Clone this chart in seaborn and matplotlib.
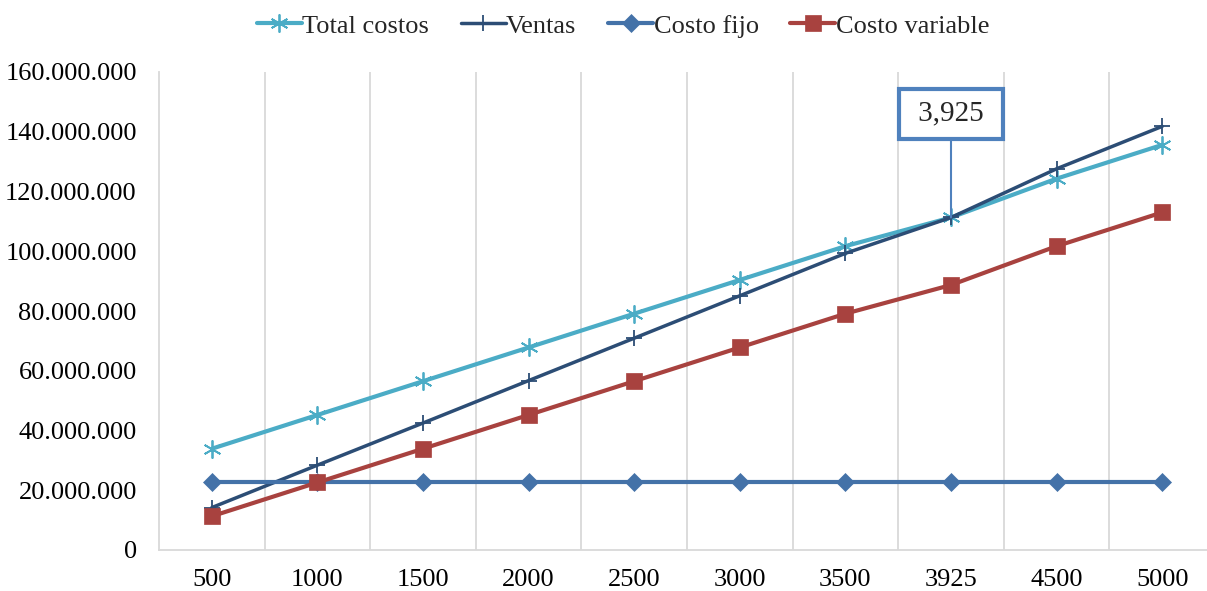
import numpy as np
import pandas as pd
import matplotlib
matplotlib.use("Agg")
import matplotlib.pyplot as plt
from matplotlib.lines import Line2D
from matplotlib.ticker import FuncFormatter, MultipleLocator
import seaborn as sns

# Data
unidades = ["500", "1000", "1500", "2000", "2500", "3000", "3500", "3925", "4500", "5000"]
total_costos = [33.9, 45.2, 56.5, 67.8, 79.1, 90.4, 101.7, 111.3, 124.3, 135.6]
ventas = [14.2, 28.4, 42.5, 56.7, 70.9, 85.1, 99.3, 111.3, 127.6, 141.8]
costo_fijo = [22.6, 22.6, 22.6, 22.6, 22.6, 22.6, 22.6, 22.6, 22.6, 22.6]
costo_variable = [11.3, 22.6, 33.9, 45.2, 56.5, 67.8, 79.1, 88.7, 101.7, 113.0]
punto_equilibrio = "3,925"
idx_equilibrio = 7

sns.set_theme(style="white")
plt.rcParams['font.family'] = ['Liberation Serif', 'DejaVu Serif']

fig = plt.figure(figsize=(12.07, 5.91), dpi=100)
ax = fig.add_axes([159 / 1207, 41 / 591, 1056 / 1207, 478 / 591])

pos = np.arange(len(unidades))
series = [
    ("Total costos", total_costos, "#4BACC6", (6, 2, 0), 13, 3.0),
    ("Ventas", ventas, "#2C4D75", "+", 12, 2.5),
    ("Costo fijo", costo_fijo, "#4472A8", "D", 9, 3.0),
    ("Costo variable", costo_variable, "#A8423F", "s", 12, 3.0),
]

handles = []
for name, vals, color, marker, ms, lw in series:
    y = np.array(vals) * 1e6
    mew = 1.3 if marker in ("+", (6, 2, 0)) else 0.5
    sns.lineplot(x=pos, y=y, ax=ax, color=color, linewidth=lw, marker=marker,
                 markersize=ms, markeredgecolor=color, markeredgewidth=mew,
                 legend=False)
    handles.append(Line2D([0], [0], color=color, linewidth=lw, marker=marker,
                          markersize=ms, markeredgecolor=color,
                          markeredgewidth=mew, label=name))

ax.set_xlim(-0.5, len(unidades) - 0.5)
ax.set_ylim(0, 160e6)
ax.set_xticks(pos)
ax.set_xticklabels(unidades)
ax.yaxis.set_major_locator(MultipleLocator(20e6))
ax.yaxis.set_major_formatter(FuncFormatter(lambda v, p: f"{v:,.0f}".replace(",", ".")))
ax.tick_params(axis="y", length=0, pad=16, labelsize=19, labelcolor="black")
ax.tick_params(axis="x", length=0, pad=14, labelsize=19, labelcolor="black")

# vertical gridlines between categories
ax.set_xticks(pos[:-1] + 0.5, minor=True)
ax.grid(False)
ax.grid(True, axis="x", which="minor", color="#D9D9D9", linewidth=1.3)
ax.tick_params(axis="x", which="minor", length=0)

for s in ["top", "right"]:
    ax.spines[s].set_visible(False)
for s in ["left", "bottom"]:
    ax.spines[s].set_color("#D9D9D9")
    ax.spines[s].set_linewidth(1.3)

ax.set_xlabel("")
ax.set_ylabel("")

# break-even callout
ax.annotate(" " + punto_equilibrio + " ",
            xy=(idx_equilibrio, total_costos[idx_equilibrio] * 1e6),
            xytext=(idx_equilibrio, 146e6),
            ha="center", va="center", fontsize=21,
            bbox=dict(boxstyle="square,pad=0.42", fc="white", ec="#4F81BD", lw=3),
            arrowprops=dict(arrowstyle="-", color="#4F81BD", lw=1.5, shrinkA=0, shrinkB=0))

fig.legend(handles=handles, loc="center", bbox_to_anchor=(623 / 1207, 1 - 26 / 591),
           ncol=4, frameon=False, fontsize=19, handlelength=1.7, handletextpad=0.02,
           columnspacing=1.2)

fig.savefig("out.png", dpi=100)
